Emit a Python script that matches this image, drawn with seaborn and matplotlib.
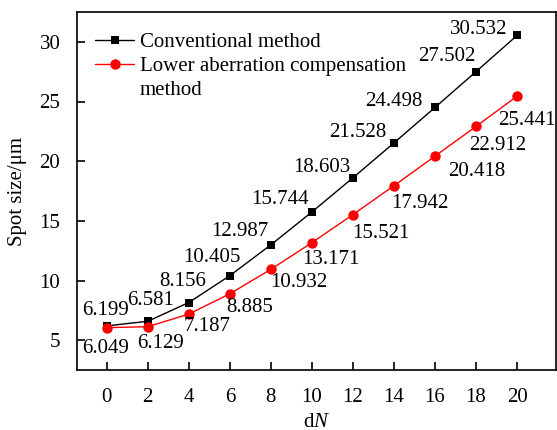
import matplotlib
matplotlib.use("Agg")
import matplotlib.pyplot as plt
from matplotlib.lines import Line2D
import pandas as pd
import seaborn as sns

dN = [0, 2, 4, 6, 8, 10, 12, 14, 16, 18, 20]
conventional = [6.199, 6.581, 8.156, 10.405, 12.987, 15.744, 18.603, 21.528, 24.498, 27.502, 30.532]
lower_aberr = [6.049, 6.129, 7.187, 8.885, 10.932, 13.171, 15.521, 17.942, 20.418, 22.912, 25.441]
conv_labels = ["6.199", "6.581", "8.156", "10.405", "12.987", "15.744", "18.603", "21.528", "24.498", "27.502", "30.532"]
lower_labels = ["6.049", "6.129", "7.187", "8.885", "10.932", "13.171", "15.521", "17.942", "20.418", "22.912", "25.441"]

# label offsets in pixels (dx right, dy down) from each point
conv_off = [(-1, -15), (3, -21), (-6, -21), (-18, -18), (-31, -13), (-32, -12),
            (-31, -10), (-36, -10), (-41, -6), (-29, -15), (-38, -6)]
lower_off = [(-1, 21), (13, 17), (18, 12), (20, 14), (28, 13), (19, 17),
             (28, 19), (26, 18), (42, 15), (22, 19), (10, 24)]

df = pd.DataFrame({"dN": dN, "conv": conventional, "lower": lower_aberr})

sns.set_theme(style="ticks")
plt.rcParams["font.family"] = ["Liberation Serif", "DejaVu Serif"]
plt.rcParams["mathtext.fontset"] = "custom"
plt.rcParams["mathtext.rm"] = "Liberation Serif"
plt.rcParams["mathtext.it"] = "Liberation Serif:italic"
for k in ["text.color", "axes.labelcolor", "xtick.color", "ytick.color", "axes.edgecolor"]:
    plt.rcParams[k] = "black"
plt.rcParams.update({
    "xtick.direction": "in", "ytick.direction": "in",
    "xtick.major.size": 6, "ytick.major.size": 6,
    "xtick.major.width": 1.2, "ytick.major.width": 1.2,
    "xtick.major.pad": 13, "ytick.major.pad": 12,
    "xtick.labelsize": 15, "ytick.labelsize": 15,
    "xtick.top": False, "ytick.right": False,
    "axes.linewidth": 1.2,
})

fig = plt.figure(figsize=(5.57, 4.30), dpi=100)
ax = fig.add_axes([77 / 557, 60 / 430, 479 / 557, 358 / 430])

sns.lineplot(data=df, x="dN", y="conv", ax=ax, color="black", lw=1,
             marker="s", markersize=6, markeredgewidth=0,
             label="Conventional method")
sns.lineplot(data=df, x="dN", y="lower", ax=ax, color="red", lw=1,
             marker="o", markersize=7.5, markeredgewidth=0,
             label="Lower aberration compensation")

for x, y, t, (dx, dy) in zip(dN, conventional, conv_labels, conv_off):
    ax.annotate(t, (x, y), xytext=(dx * 0.72, -dy * 0.72), textcoords="offset points",
                ha="center", va="center", fontsize=15, color="black")
for x, y, t, (dx, dy) in zip(dN, lower_aberr, lower_labels, lower_off):
    ax.annotate(t, (x, y), xytext=(dx * 0.72, -dy * 0.72), textcoords="offset points",
                ha="center", va="center", fontsize=15, color="black",
                annotation_clip=False)

ax.set_xlim(-1.45, 21.9)
ax.set_ylim(2.5, 32.5)
ax.set_xticks(dN)
ax.set_yticks([5, 10, 15, 20, 25, 30])

ax.set_xlabel("d$\\it{N}$", fontsize=15, labelpad=4)
ax.set_ylabel("Spot size/μm", fontsize=15, labelpad=9)

# second line of the red label gets its own blank row so the handle sits on line one
handles, labels = ax.get_legend_handles_labels()
handles.append(Line2D([], [], color="none"))
labels.append("method")
ax.legend(handles, labels, loc="upper left", bbox_to_anchor=(0.02, 0.965),
          frameon=False, fontsize=15, handlelength=1.9, handletextpad=0.25,
          labelspacing=0.2, borderaxespad=0)

fig.savefig("out.png", dpi=100)
